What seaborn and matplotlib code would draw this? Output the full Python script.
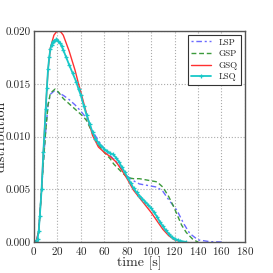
import numpy as np
import pandas as pd
import matplotlib
matplotlib.use("Agg")
import matplotlib.pyplot as plt
import seaborn as sns

# values
t_lsp = [0, 2, 4, 6.5, 8, 10, 12, 14, 17, 20, 25, 30, 35, 40, 45, 50, 55, 60, 65, 70, 75, 80,
         85, 90, 95, 100, 105, 110, 115, 122, 128, 133, 140, 150, 160]
v_lsp = [0, 0.0001, 0.001, 0.005, 0.0075, 0.0105, 0.013, 0.014, 0.0143, 0.0142, 0.0139, 0.0135,
         0.0130, 0.0124, 0.0117, 0.0105, 0.0096, 0.0088, 0.0082, 0.0076, 0.0069, 0.0062,
         0.0058, 0.0055, 0.0054, 0.0053, 0.0052, 0.0048, 0.0040, 0.0030, 0.0017, 0.0008,
         0.0002, 0.00003, 0.0]

t_gsp = [0, 2, 4, 6.5, 8, 10, 12, 14, 18, 21, 25, 30, 35, 42, 45, 50, 55, 60, 65, 68, 75, 80,
         85, 90, 95, 100, 105, 110, 115, 119, 126, 130, 136, 140]
v_gsp = [0, 0.0001, 0.001, 0.005, 0.0075, 0.0105, 0.013, 0.0141, 0.0145, 0.0142, 0.0136, 0.0131,
         0.0126, 0.0119, 0.0115, 0.0103, 0.0092, 0.0085, 0.0079, 0.0074, 0.0066, 0.0061,
         0.0060, 0.0060, 0.0059, 0.0058, 0.0057, 0.0052, 0.0043, 0.0034, 0.0016, 0.0009,
         0.0002, 0.0]

t_gsq = [0, 2, 4, 5, 6.5, 8, 10, 12, 14, 17, 19, 21, 23, 25, 30, 35, 38, 40, 45, 50, 55, 60,
         65, 70, 75, 80, 85, 90, 95, 100, 105, 110, 115, 120, 125, 130]
v_gsq = [0, 0.0001, 0.001, 0.0025, 0.005, 0.0085, 0.0127, 0.0163, 0.0184, 0.0196, 0.0199, 0.0200,
         0.0199, 0.0196, 0.0181, 0.0163, 0.0150, 0.0142, 0.0121, 0.0101, 0.0090, 0.0085,
         0.0081, 0.0076, 0.0068, 0.0059, 0.0049, 0.0042, 0.0035, 0.0028, 0.0020, 0.0012,
         0.0006, 0.0002, 0.00005, 0.0]

t_lsq = [0, 2, 3, 4, 5, 6.5, 8, 10, 11, 12, 13, 14, 15, 16, 17.5, 19, 20.5, 22, 23.5, 25, 27.5,
         30, 33, 36, 38, 40, 42.5, 45, 47.5, 50, 52.5, 55, 57.5, 60, 62.5, 65, 67.5, 70,
         72.5, 75, 77.5, 80, 82.5, 85, 87.5, 90, 92.5, 95, 97.5, 100, 102.5, 105, 107.5,
         110, 112.5, 115, 117.5, 120, 122.5, 125, 130]
v_lsq = [0, 0.0001, 0.0003, 0.001, 0.0025, 0.005, 0.0085, 0.0126, 0.0146, 0.0164, 0.0175, 0.0183,
         0.0187, 0.0190, 0.0191, 0.0192, 0.0191, 0.0189, 0.0186, 0.0182, 0.0175, 0.0168,
         0.0160, 0.0152, 0.0145, 0.0139, 0.0129, 0.0120, 0.0112, 0.0104, 0.0098, 0.0094,
         0.0091, 0.0088, 0.0086, 0.0084, 0.0083, 0.0080, 0.0076, 0.0071, 0.0066, 0.0061,
         0.0056, 0.0051, 0.0047, 0.0044, 0.0041, 0.0038, 0.0035, 0.0032, 0.0028, 0.0024,
         0.0019, 0.0015, 0.0011, 0.0008, 0.0005, 0.0003, 0.0002, 0.0001, 0.0]

names = ["LSP", "GSP", "GSQ", "LSQ"]

sns.set_style("whitegrid")
plt.rcParams["font.family"] = "serif"
plt.rcParams["font.serif"] = ["cmr10", "DejaVu Serif"]
plt.rcParams["axes.formatter.use_mathtext"] = True
plt.rcParams["mathtext.fontset"] = "cm"

fig = plt.figure(figsize=(2.73, 2.73), dpi=100)
ax = fig.add_axes([0.1245, 0.1136, 0.7725, 0.7728])

sns.lineplot(x=t_lsp, y=v_lsp, ax=ax, color="#6a6aff", lw=1.0, linestyle=(0, (1.5, 2, 4, 2)),
             label=names[0])
sns.lineplot(x=t_gsp, y=v_gsp, ax=ax, color="#3c9a3c", lw=1.0, linestyle=(0, (3.5, 2)),
             label=names[1])
sns.lineplot(x=t_gsq, y=v_gsq, ax=ax, color="#ff3030", lw=1.0, label=names[2])
sns.lineplot(x=t_lsq, y=v_lsq, ax=ax, color="#18c8c8", lw=1.3, marker="+", markersize=3.0,
             markeredgewidth=0.9, markeredgecolor="#18c8c8", label=names[3])

ax.set_xlim(0, 180)
ax.set_ylim(0, 0.020)
ax.set_xticks(np.arange(0, 181, 20))
ax.set_yticks([0, 0.005, 0.010, 0.015, 0.020])
ax.set_yticklabels(["0.000", "0.005", "0.010", "0.015", "0.020"])
ax.tick_params(labelsize=8, length=2, width=0.6, color="#555555", pad=1, direction="inout")
ax.grid(True, color="#aaaaaa", linestyle=":", linewidth=0.8)
for s in ax.spines.values():
    s.set_color("#555555")
    s.set_linewidth(1.0)

ax.set_xlabel("time [s]", fontsize=10, labelpad=0)
ax.set_ylabel("distribution", fontsize=10)
ax.yaxis.set_label_coords(-0.125, 0.5)

leg = ax.legend(loc="upper right", fontsize=6.5, fancybox=False, framealpha=1,
                edgecolor="#333333", handlelength=2.2, borderaxespad=0.4,
                labelspacing=0.35, borderpad=0.4)
leg.get_frame().set_linewidth(0.8)

fig.savefig("out.png", dpi=100)
